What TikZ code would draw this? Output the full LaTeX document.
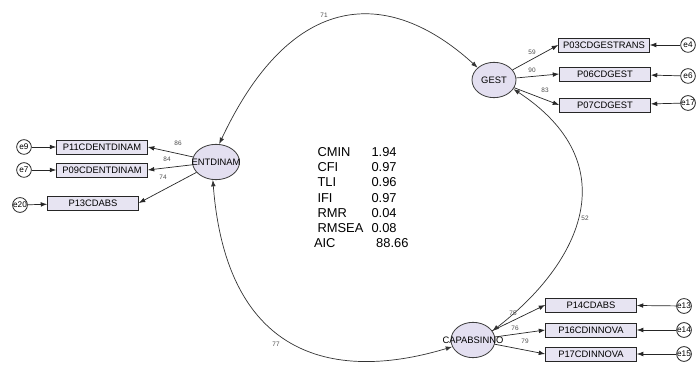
\documentclass[tikz,border=0pt]{standalone}
\usepackage{fontspec}
\setmainfont{Liberation Sans}
\usetikzlibrary{shapes.geometric, arrows.meta}
\definecolor{lav}{HTML}{E3DFF0}

\begin{document}
\begin{tikzpicture}[x = 0.03cm, y = 0.03cm,
    latent/.style = {ellipse, draw = black!75, fill = lav, line width = 0.7pt, minimum width = 1.32cm, minimum height = 1.06cm, inner sep = 0pt, font = \fontsize{8}{9}\selectfont},
    item/.style = {rectangle, draw = black!85, fill = lav!85, line width = 0.8pt, minimum width = 2.72cm, minimum height = 0.42cm, inner sep = 0pt, font = \fontsize{8}{9}\selectfont},
    err/.style = {circle, draw = black!85, fill = white, line width = 0.7pt, minimum size = 0.44cm, inner sep = 0pt, font = \fontsize{7}{8}\selectfont},
    coef/.style = {inner sep = 0pt, text = black!70, font = \fontsize{5.5}{6}\selectfont},
    load/.style = {draw = black!85, line width = 0.6pt, -{Latex[length = 5.5pt, width = 4pt]}},
    cov/.style = {draw = black!80, line width = 0.6pt, {Latex[length = 5.5pt, width = 4pt]}-{Latex[length = 5.5pt, width = 4pt]}}]
    \useasboundingbox (0,0) rectangle (699,365);

    % latent factors
    \node [latent, minimum width = 1.41cm] (ENT) at (216,203) {\makebox[0pt]{ENTDINAM}};
    \node [latent] (GEST) at (494,285) {\makebox[0pt]{GEST}};
    \node [latent] (CAP) at (473,25) {\makebox[0pt]{CAPABSINNO}};

    % observed items
    \node [item] (P11) at (102,218) {P11CDENTDINAM};
    \node [item] (P09) at (102,195) {P09CDENTDINAM};
    \node [item] (P13) at (93,162) {P13CDABS};
    \node [item] (P03) at (604,320) {P03CDGESTRANS};
    \node [item] (P06) at (605,291) {P06CDGEST};
    \node [item] (P07) at (605,260) {P07CDGEST};
    \node [item] (P14) at (591,60) {P14CDABS};
    \node [item] (P16) at (591,35) {P16CDINNOVA};
    \node [item] (P17) at (591,11) {P17CDINNOVA};

    % error terms
    \node [err] (e9) at (24,218) {e9};
    \node [err] (e7) at (24,195) {e7};
    \node [err] (e20) at (20,160) {e20};
    \node [err] (e4) at (688,320) {e4};
    \node [err] (e6) at (688,289) {e6};
    \node [err] (e17) at (688,262) {e17};
    \node [err] (e13) at (684,59) {e13};
    \node [err] (e14) at (684,35) {e14};
    \node [err] (e15) at (684,11) {e15};

    % loadings
    \draw [load] (ENT) -- (P11.east);
    \draw [load] (ENT) -- (P09.east);
    \draw [load] (ENT) -- (P13.east);
    \draw [load] (GEST) -- (P03.west);
    \draw [load] (GEST) -- (P06.west);
    \draw [load] (GEST) -- (P07.west);
    \draw [load] (CAP) -- (P14.west);
    \draw [load] (CAP) -- (P16.west);
    \draw [load] (CAP) -- (P17.west);

    \draw [load] (e9) -- (P11);
    \draw [load] (e7) -- (P09);
    \draw [load] (e20) -- (P13);
    \draw [load] (e4) -- (P03);
    \draw [load] (e6) -- (P06);
    \draw [load] (e17) -- (P07);
    \draw [load] (e13) -- (P14);
    \draw [load] (e14) -- (P16);
    \draw [load] (e15) -- (P17);

    % covariances
    \draw [cov] (ENT.80) .. controls (292,376) and (389,378) .. (GEST.143);
    \draw [cov] (GEST.335) .. controls (626,202) and (583,104) .. (CAP.25);
    \draw [cov] (ENT.260) .. controls (227,3) and (339,-16) .. (CAP.198);

    % estimates
    \node [coef] (c71) at (324,350) {71};
    \node [coef] (c52) at (585,147) {52};
    \node [coef] (c77) at (276,21) {77};
    \node [coef] (c86) at (178,222) {86};
    \node [coef] (c84) at (167,206) {84};
    \node [coef] (c74) at (163,188) {74};
    \node [coef] (c59) at (532,313) {59};
    \node [coef] (c90) at (532,295) {90};
    \node [coef] (c83) at (545,275) {83};
    \node [coef] (c75) at (513,52) {75};
    \node [coef] (c76) at (515,37) {76};
    \node [coef] (c79) at (525,24) {79};

    % fit indices
    \node [inner sep = 0pt, font = \fontsize{11}{13}\selectfont] (fit) at (363,166) {%
        \begin{tabular}{@{}l@{\hspace{7pt}}l@{}}
            CMIN & 1.94\\
            CFI & 0.97\\
            TLI & 0.96\\
            IFI & 0.97\\
            RMR & 0.04\\
            RMSEA & 0.08\\
            \hspace*{-3pt}AIC & \hspace*{4pt}88.66
        \end{tabular}};
\end{tikzpicture}
\end{document}
